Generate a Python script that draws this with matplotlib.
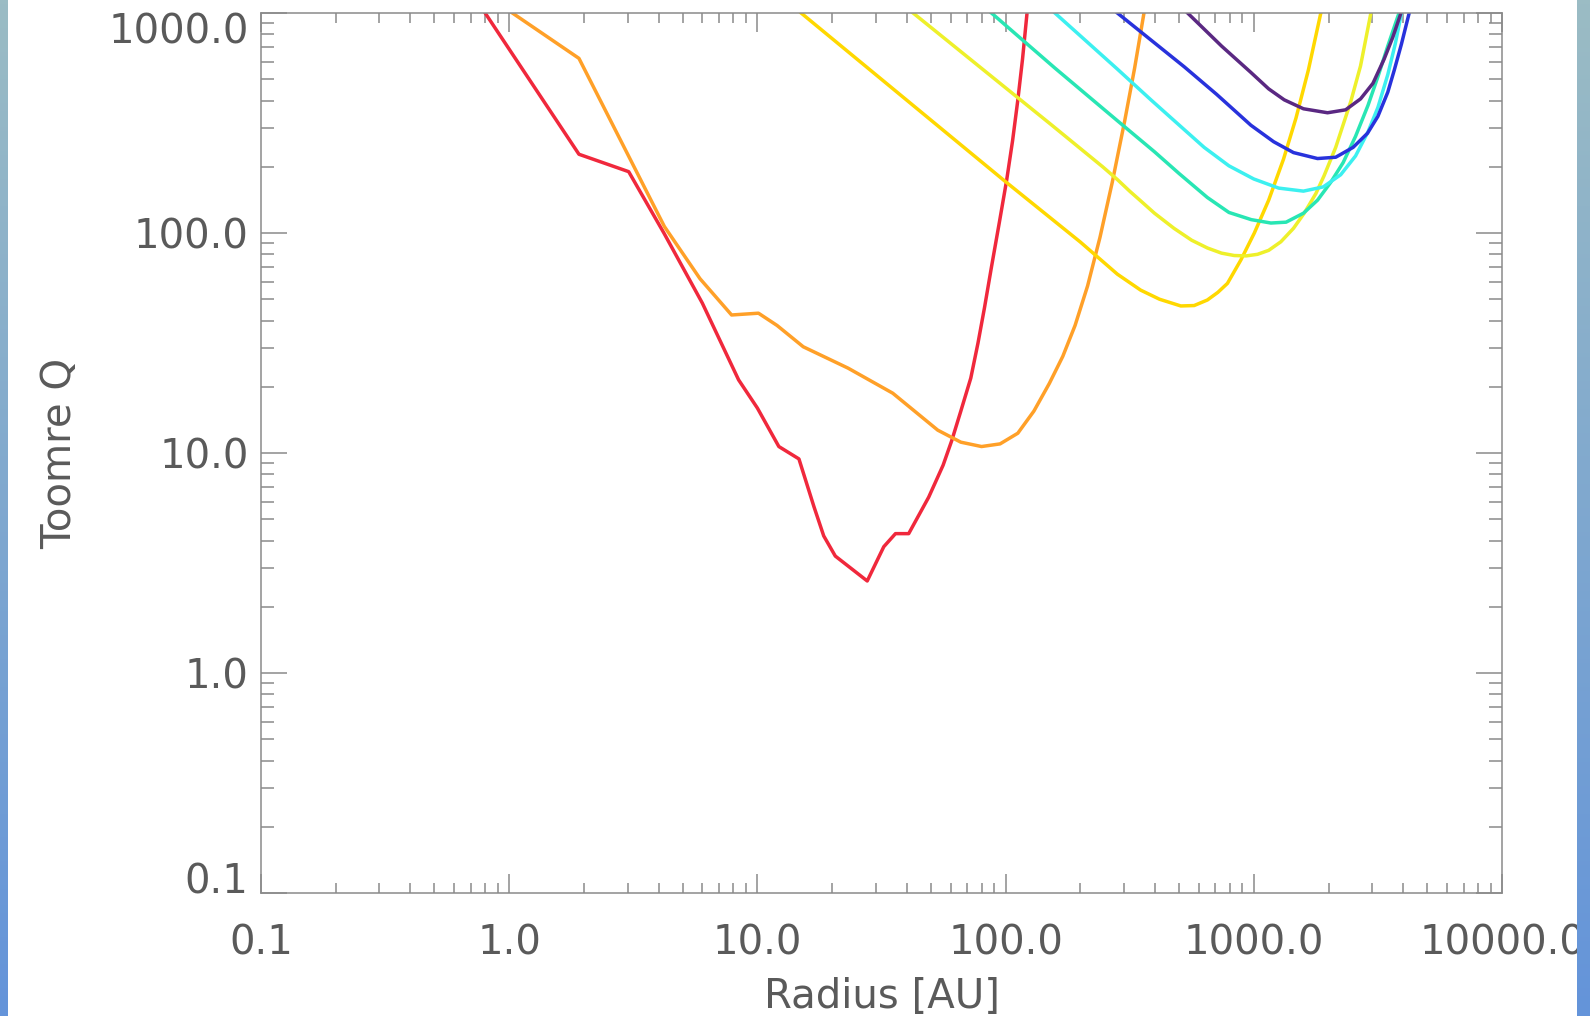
import numpy as np
import matplotlib
matplotlib.use("Agg")
import matplotlib.pyplot as plt
from matplotlib.ticker import FixedLocator, LogLocator, NullFormatter, FormatStrFormatter

# radius [AU] and Toomre Q, one pair of lists per curve
red_r = [0.80, 1.91, 3.03, 4.2, 6.0, 8.4, 10.0, 12.2, 14.7, 16.9, 18.5, 20.6, 27.7, 32.3, 36, 40.7,
         49, 56, 60.7, 66, 72.4, 77.4, 82.2, 87.7, 94.4, 101, 106.7, 112, 117, 122]
red_q = [1000, 228, 190, 100, 48, 21.5, 16.0, 10.7, 9.4, 5.7, 4.2, 3.4, 2.62, 3.75, 4.3, 4.3,
         6.3, 8.8, 11.4, 15.5, 21.9, 31.6, 45.7, 70, 112, 174, 263, 402, 617, 1000]

orange_r = [1.03, 1.91, 4.22, 5.87, 7.87, 10.1, 12.0, 15.3, 23.2, 35.1, 53.3, 66, 80, 95, 112,
            130, 150, 170, 190.5, 214, 240, 269, 302, 331, 361]
orange_q = [1000, 622, 107, 62, 42.4, 43.2, 38, 30.4, 24.3, 18.7, 12.7, 11.2, 10.7, 11.0, 12.3,
            15.5, 20.7, 27.5, 38, 57.5, 95.5, 170, 324, 562, 1000]

gold_r = [15, 100, 200, 282, 350, 417, 508, 575, 650, 716, 783, 887, 1005, 1148, 1318, 1479,
          1660, 1862]
gold_q = [1000, 171, 91, 65, 55, 50, 46.6, 46.8, 49.6, 53.7, 59, 75.4, 100, 141, 217, 333,
          552, 1000]

lemon_r = [42.4, 100, 152, 246, 282, 316, 350, 398, 477, 562, 650, 741, 834, 933, 1035, 1148,
           1285, 1445, 1596, 1778, 1919, 2138, 2462, 2692, 2963]
lemon_q = [1000, 457, 312, 200, 175, 155, 140, 123, 105, 92.7, 85.5, 81, 79, 78.7, 80, 83.4,
           91.2, 105, 123, 151, 182, 245, 398, 575, 1000]

teal_r = [87.7, 158, 282, 398, 501, 650, 794, 977, 1172, 1349, 1585, 1806, 2042, 2291, 2570,
          2884, 3162, 3467, 3846]
teal_q = [1000, 562, 324, 234, 186, 145, 124, 115, 111, 112, 123, 141, 170, 209, 275,
          380, 513, 708, 1000]

cyan_r = [158, 282, 385, 501, 631, 794, 1000, 1259, 1585, 1905, 2239, 2570, 2884, 3162, 3467,
          3715, 3936]
cyan_q = [1000, 556, 403, 309, 245, 202, 176, 160, 155, 162, 184, 224, 288, 372, 525,
          724, 1000]

blue_r = [282, 525, 708, 973, 1202, 1445, 1806, 2138, 2512, 2871, 3162, 3467, 3681, 3936, 4227]
blue_q = [1000, 569, 427, 309, 260, 232, 218, 221, 245, 284, 339, 437, 550, 724, 1000]

purple_r = [541, 741, 973, 1148, 1326, 1585, 1982, 2344, 2692, 3020, 3350, 3631, 3917]
purple_q = [1000, 708, 537, 452, 403, 367, 352, 363, 407, 479, 617, 776, 1000]

curves = [
    (red_r, red_q, "#f0283c"),
    (orange_r, orange_q, "#ffa028"),
    (gold_r, gold_q, "#ffd800"),
    (lemon_r, lemon_q, "#eef02a"),
    (teal_r, teal_q, "#28e6b4"),
    (cyan_r, cyan_q, "#3cf0f0"),
    (blue_r, blue_q, "#2832dc"),
    (purple_r, purple_q, "#5a2882"),
]

x_ticks = [0.1, 1.0, 10.0, 100.0, 1000.0, 10000.0]
y_ticks = [0.1, 1.0, 10.0, 100.0, 1000.0]

grey = "#5a5a5a"

fig = plt.figure(figsize=(15.9, 10.16), dpi=100)
ax = fig.add_axes([261/1590, 1 - 893/1016, 1241/1590, 880/1016])

for r, q, c in curves:
    ax.plot(r, q, color=c, lw=2.5, solid_joinstyle="round")

ax.set_xscale("log")
ax.set_yscale("log")
ax.set_xlim(0.1, 10000)
ax.set_ylim(0.1, 1000)

for a in (ax.xaxis, ax.yaxis):
    a.set_minor_locator(LogLocator(base=10, subs=np.arange(2, 10), numticks=20))
    a.set_minor_formatter(NullFormatter())
    a.set_major_formatter(FormatStrFormatter("%.1f"))
ax.xaxis.set_major_locator(FixedLocator(x_ticks))
ax.yaxis.set_major_locator(FixedLocator(y_ticks))

for s in ax.spines.values():
    s.set_color("#8a8a8a")
    s.set_linewidth(1.1)

ax.tick_params(which="both", direction="in", top=True, right=True, color="#8a8a8a",
               width=1.1, labelcolor=grey, labelsize=29)
ax.tick_params(axis="x", which="major", length=13.7, pad=22)
ax.tick_params(axis="x", which="minor", length=7.2)
ax.tick_params(axis="y", which="major", length=18.7, pad=9)
ax.tick_params(axis="y", which="minor", length=9.4)

ylabs = ax.get_yticklabels()
ylabs[0].set_va("baseline")
ylabs[-1].set_va("top")

ax.set_xlabel("Radius [AU]", fontsize=29, color=grey)
ax.set_ylabel("Toomre Q", fontsize=29, color=grey)
ax.xaxis.set_label_coords(0.5, -0.096)
ax.yaxis.set_label_coords(-0.146, 0.5)

# blue gradient strips at the left and right edges
grad = np.linspace(0, 1, 256)[:, None]
strip_cmap = matplotlib.colors.LinearSegmentedColormap.from_list(
    "strip", [(155/255, 188/255, 196/255), (100/255, 148/255, 218/255)])
for x0, w in [(0, 7.5/1590), (1577/1590, 13/1590)]:
    sa = fig.add_axes([x0, 0, w, 1])
    sa.imshow(grad, aspect="auto", cmap=strip_cmap, extent=[0, 1, 1, 0])
    sa.set_axis_off()

fig.savefig("out.png", dpi=100)
